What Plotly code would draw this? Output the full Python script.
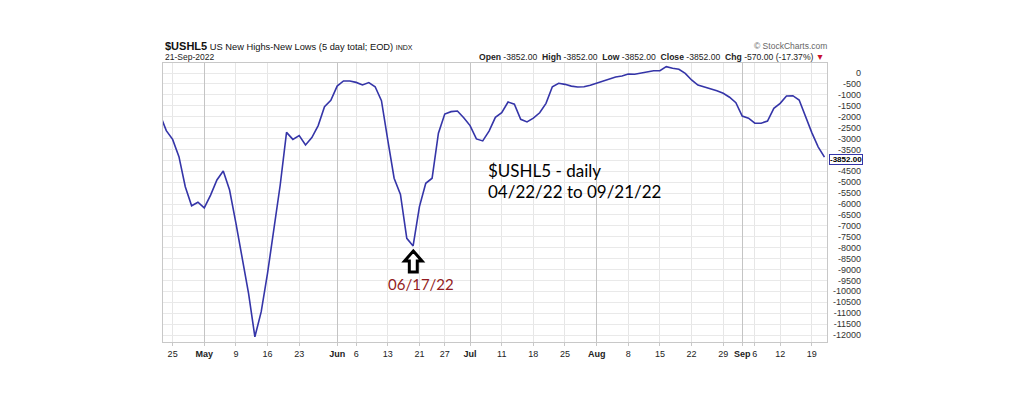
import plotly.graph_objects as go

# ---------------- data ----------------
dates = (
    ["2022-04-%02d" % d for d in [21, 22, 25, 26, 27, 28, 29]]
    + ["2022-05-%02d" % d for d in [2, 3, 4, 5, 6, 9, 10, 11, 12, 13, 16, 17, 18, 19, 20, 23, 24, 25, 26, 27, 31]]
    + ["2022-06-%02d" % d for d in [1, 2, 3, 6, 7, 8, 9, 10, 13, 14, 15, 16, 17, 21, 22, 23, 24, 27, 28, 29, 30]]
    + ["2022-07-%02d" % d for d in [1, 5, 6, 7, 8, 11, 12, 13, 14, 15, 18, 19, 20, 21, 22, 25, 26, 27, 28, 29]]
    + ["2022-08-%02d" % d for d in [1, 2, 3, 4, 5, 8, 9, 10, 11, 12, 15, 16, 17, 18, 19, 22, 23, 24, 25, 26, 29, 30, 31]]
    + ["2022-09-%02d" % d for d in [1, 2, 6, 7, 8, 9, 12, 13, 14, 15, 16, 19, 20, 21]]
)

apr_vals = [-1900, -2640, -3040, -3830, -5210, -6080, -5920]
may_vals = [-6180, -5590, -4900, -4490, -5360, -6880, -8410, -10090, -12080, -10930,
            -9170, -7040, -5130, -2720, -3040, -2870, -3300, -2960, -2410, -1540, -1250]
jun_vals = [-600, -366, -366, -430, -550, -440, -630, -1270, -3070, -4820, -5560,
            -7570, -7920, -6120, -5050, -4820, -2760, -1880, -1770, -1740, -2050]
jul_vals = [-2410, -3020, -3110, -2660, -2030, -1820, -1330, -1430, -2120, -2240,
            -2070, -1820, -1390, -630, -470, -520, -600, -640, -630, -560]
aug_vals = [-470, -350, -260, -180, -140, -50, -60, -15, 45, 105, 105, 290, 215, 170,
            -15, -320, -550, -630, -720, -810, -930, -1110, -1360]
sep_vals = [-1970, -2070, -2300, -2300, -2200, -1620, -1390, -1050, -1040, -1240,
            -2000, -2730, -3380, -3852]
values = apr_vals + may_vals + jun_vals + jul_vals + aug_vals + sep_vals

x_tick_dates = ["2022-04-25", "2022-05-02", "2022-05-09", "2022-05-16", "2022-05-23",
                "2022-06-01", "2022-06-06", "2022-06-13", "2022-06-21", "2022-06-27",
                "2022-07-01", "2022-07-11", "2022-07-18", "2022-07-25", "2022-08-01",
                "2022-08-08", "2022-08-15", "2022-08-22", "2022-08-29", "2022-09-01",
                "2022-09-06", "2022-09-12", "2022-09-19"]
x_tick_labels = ["25", "<b>May</b>", "9", "16", "23", "<b>Jun</b>", "6", "13", "21", "27",
                 "<b>Jul</b>", "11", "18", "25", "<b>Aug</b>", "8", "15", "22", "29",
                 "<b>Sep</b>", "6", "12", "19"]
month_dates = ["2022-05-02", "2022-06-01", "2022-07-01", "2022-08-01", "2022-09-01"]

y_tick_vals = list(range(0, -12001, -500))
# the -4000 label is hidden behind the last-value tag in the reference
y_tick_labels = ["" if v == -4000 else str(v) for v in y_tick_vals]

last_value = values[-1]

# ---------------- layout helpers ----------------
W, H = 1022, 394
PL, PR, PT, PB = 163, 827, 63, 342   # plot (data) area in pixels
PAPER_R = 861                         # right end of the paper area (labels end here)


def px(x):
    return (x - PL) / (PAPER_R - PL)


def py(y):
    return (PB - y) / (PB - PT)


FONT = "Liberation Sans, Arial, sans-serif"
LINE = "#3535a8"
xr = [0.48, 105.4]
dom_r = (PR - PL) / (PAPER_R - PL)

fig = go.Figure()
fig.add_trace(go.Scatter(x=dates, y=values, mode="lines",
                         line=dict(color=LINE, width=1.6), hoverinfo="skip",
                         showlegend=False))
# invisible traces so the helper axes are active
fig.add_trace(go.Scatter(x=[dates[0]], y=[values[0]], xaxis="x2", mode="lines",
                         line=dict(width=0), hoverinfo="skip", showlegend=False))
fig.add_trace(go.Scatter(x=[dates[0]], y=[values[0]], yaxis="y2", mode="lines",
                         line=dict(width=0), hoverinfo="skip", showlegend=False))

fig.update_layout(
    width=W, height=H,
    margin=dict(l=PL, r=W - PAPER_R, t=PT, b=H - PB),
    paper_bgcolor="white", plot_bgcolor="white",
    showlegend=False,
    xaxis=dict(type="category", categoryorder="array", categoryarray=dates,
               domain=[0, dom_r], range=xr, tickvals=x_tick_dates,
               ticktext=x_tick_labels, tickangle=0,
               tickfont=dict(family=FONT, size=9, color="#222"),
               showgrid=True, gridcolor="#e6e6e6", gridwidth=1,
               showline=True, linecolor="#c8c8c8", mirror=True,
               ticks="outside", ticklen=3, tickcolor="#c8c8c8",
               zeroline=False, fixedrange=True),
    xaxis2=dict(type="category", categoryorder="array", categoryarray=dates,
                overlaying="x", range=xr, tickvals=month_dates,
                showticklabels=False, showgrid=True, gridcolor="#c4c4c4",
                gridwidth=1, showline=False, zeroline=False, side="bottom"),
    yaxis=dict(range=[-12320, 458], tickvals=y_tick_vals, showticklabels=False,
               showgrid=True, gridcolor="#e9e9e9", gridwidth=1,
               zeroline=False, ticks="",
               showline=True, linecolor="#c8c8c8", mirror=True),
    yaxis2=dict(overlaying="y", matches="y", anchor="free", position=1.0,
                side="left", range=[-12320, 458], tickvals=y_tick_vals,
                ticktext=y_tick_labels, ticks="", showgrid=False,
                zeroline=False, showline=False, ticklabelstandoff=0,
                tickfont=dict(family=FONT, size=9, color="#333")),
)

ann = []
ann.append(dict(xref="paper", yref="paper", x=px(163), y=py(46), xanchor="left",
                yanchor="middle", showarrow=False,
                text=("<span style='font-size:11px'><b>$USHL5</b></span>"
                      " US New Highs-New Lows (5 day total; EOD) "
                      "<span style='font-size:7px'>INDX</span>"),
                font=dict(family=FONT, size=9.3, color="#111")))
ann.append(dict(xref="paper", yref="paper", x=px(163), y=py(57), xanchor="left",
                yanchor="middle", showarrow=False, text="21-Sep-2022",
                font=dict(family=FONT, size=8.5, color="#222")))
ann.append(dict(xref="paper", yref="paper", x=px(829), y=py(46), xanchor="right",
                yanchor="middle", showarrow=False, text="© StockCharts.com",
                font=dict(family=FONT, size=8.5, color="#666")))
ann.append(dict(xref="paper", yref="paper", x=px(826), y=py(57), xanchor="right",
                yanchor="middle", showarrow=False,
                text="<b>Open</b> -3852.00  <b>High</b> -3852.00  <b>Low</b> -3852.00  "
                     "<b>Close</b> -3852.00  <b>Chg</b> -570.00 (-17.37%) "
                     "<span style='color:#c8102e'>▼</span>",
                font=dict(family=FONT, size=8.6, color="#222")))
# last value tag
ann.append(dict(xref="paper", yref="y", x=px(829), y=last_value, xanchor="left",
                yanchor="middle", showarrow=False, yshift=-2,
                text="<b>%.2f</b>" % last_value,
                font=dict(family=FONT, size=8, color="#000"),
                bgcolor="white", bordercolor=LINE, borderwidth=1, borderpad=0))
# commentary text
ann.append(dict(xref="paper", yref="paper", x=px(486), y=py(170), xanchor="left",
                yanchor="middle", showarrow=False, text="$USHL5 - daily",
                font=dict(family="Lato, sans-serif", size=17, color="#000")))
ann.append(dict(xref="paper", yref="paper", x=px(486), y=py(191), xanchor="left",
                yanchor="middle", showarrow=False, text="04/22/22 to 09/21/22",
                font=dict(family="Lato, sans-serif", size=17, color="#000")))
ann.append(dict(xref="paper", yref="paper", x=px(421), y=py(284), xanchor="center",
                yanchor="middle", showarrow=False, text="06/17/22",
                font=dict(family="Lato, sans-serif", size=15, color="#931c22")))
fig.update_layout(annotations=ann)

# outlined up-arrow pointing at the 06/17 low
pts = [(413.3, 251), (422, 261), (417.3, 261), (417.3, 272), (409.3, 272),
       (409.3, 261), (404.6, 261)]
path = "M " + " L ".join("%.4f,%.4f" % (px(a), py(b)) for a, b in pts) + " Z"
fig.add_shape(type="path", xref="paper", yref="paper", path=path,
              line=dict(color="black", width=3), fillcolor="white", layer="above")

fig.write_html("out.html")
